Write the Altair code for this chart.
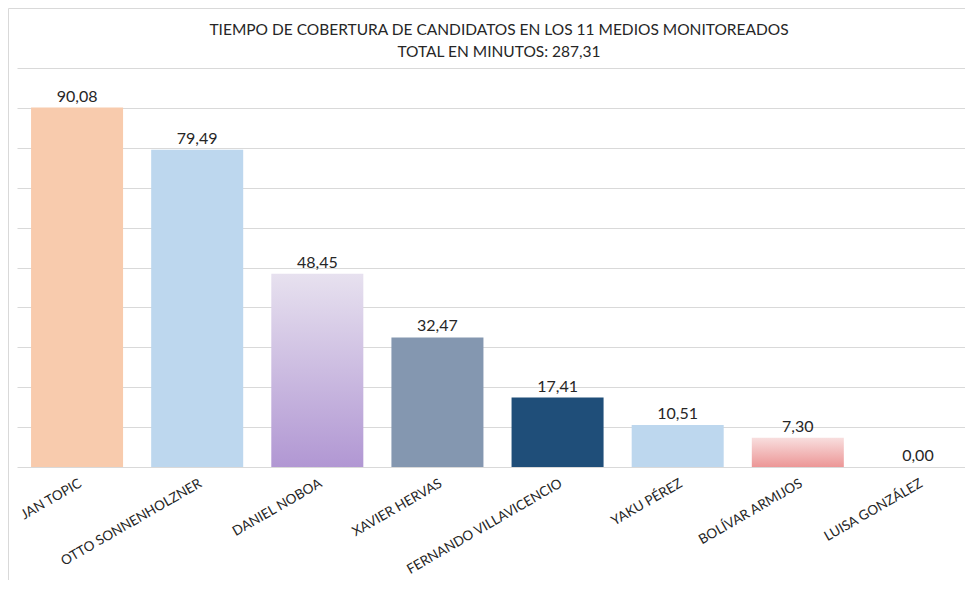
import altair as alt
import pandas as pd

candidates = ["JAN TOPIC", "OTTO SONNENHOLZNER", "DANIEL NOBOA", "XAVIER HERVAS",
              "FERNANDO VILLAVICENCIO", "YAKU PÉREZ", "BOLÍVAR ARMIJOS", "LUISA GONZÁLEZ"]
minutes = [90.08, 79.49, 48.45, 32.47, 17.41, 10.51, 7.30, 0.00]
colors = ["#F8CBAD", "#BDD7EE", "#C9B8E0", "#8497B0", "#1F4E79", "#BDD7EE", "#F0B0B0", "#FFFFFF"]
gradient_bars = ["DANIEL NOBOA", "BOLÍVAR ARMIJOS"]
title_lines = ["TIEMPO DE COBERTURA DE CANDIDATOS EN LOS 11 MEDIOS MONITOREADOS",
               "TOTAL EN MINUTOS: 287,31"]

labels = [f"{v:.2f}".replace(".", ",") for v in minutes]
df = pd.DataFrame({"candidato": candidates, "minutos": minutes, "etiqueta": labels, "color": colors})

FONT = "Lato"
TXT = "#262626"

x = alt.X("candidato:N", sort=candidates,
          scale=alt.Scale(paddingInner=0.234, paddingOuter=0.117, range=[0, 961]),
          axis=alt.Axis(title=None, labelAngle=330, labelAlign="right", labelBaseline="top",
                        labelFontSize=13.5, labelColor=TXT, labelFont=FONT, domain=False,
                        ticks=False, labelPadding=9, labelLimit=300))
y = alt.Y("minutos:Q", scale=alt.Scale(domain=[0, 100], nice=False),
          axis=alt.Axis(title=None, labels=False, ticks=False, domain=False,
                        values=list(range(0, 101, 10)), grid=True, gridColor="#d9d9d9",
                        gridWidth=1))

base = alt.Chart(df).encode(x=x, y=y)

solid = base.transform_filter(
    alt.FieldOneOfPredicate(field="candidato", oneOf=[c for c in candidates if c not in gradient_bars])
).mark_bar().encode(color=alt.Color("color:N", scale=None, legend=None))

grad_noboa = base.transform_filter(alt.datum.candidato == "DANIEL NOBOA").mark_bar(
    color=alt.Gradient(gradient="linear",
                       stops=[alt.GradientStop(color="#E7E1EF", offset=0),
                              alt.GradientStop(color="#B197D3", offset=1)],
                       x1=0, x2=0, y1=0, y2=1))
grad_armijos = base.transform_filter(alt.datum.candidato == "BOLÍVAR ARMIJOS").mark_bar(
    color=alt.Gradient(gradient="linear",
                       stops=[alt.GradientStop(color="#F8DEDE", offset=0),
                              alt.GradientStop(color="#EC9696", offset=1)],
                       x1=0, x2=0, y1=0, y2=1))

text = base.mark_text(baseline="bottom", dy=-3, fontSize=16, font=FONT, color=TXT).encode(
    text="etiqueta:N")

frame = alt.Chart(pd.DataFrame({"a": [0]})).mark_rect(
    filled=False, stroke="#d9d9d9", strokeWidth=1).encode(
    x=alt.value(-8.5), x2=alt.value(1200), y=alt.value(-59.5), y2=alt.value(800))

title1 = alt.Chart(pd.DataFrame({"t": [title_lines[0]]})).mark_text(
    fontSize=15.5, font=FONT, color=TXT, baseline="middle", align="center").encode(
    text="t:N", x=alt.value(482), y=alt.value(-38))
title2 = alt.Chart(pd.DataFrame({"t": [title_lines[1]]})).mark_text(
    fontSize=15.5, font=FONT, color=TXT, baseline="middle", align="center").encode(
    text="t:N", x=alt.value(482), y=alt.value(-16))

chart = alt.layer(frame, solid, grad_noboa, grad_armijos, text, title1, title2).properties(
    width=948, height=399,
    autosize="none",
    padding={"left": 9, "top": 60, "right": 0, "bottom": 113},
).configure_view(strokeWidth=0)

chart.save("out.html", embed_options={"renderer": "svg", "actions": False})
